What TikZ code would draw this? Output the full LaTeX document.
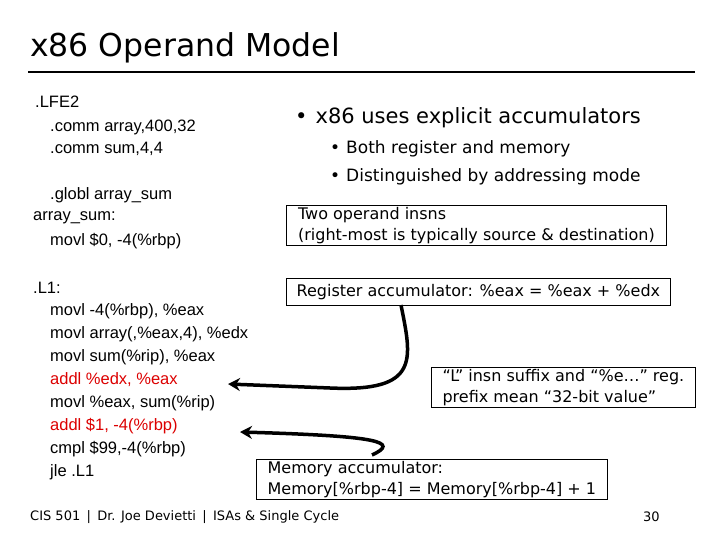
\documentclass[tikz,border=0pt]{standalone}
\usepackage{fontspec}
\usetikzlibrary{arrows.meta}
\setmainfont{Liberation Sans}
\newfontfamily\verd{DejaVu Sans}
\definecolor{codered}{RGB}{220,0,0}
\begin{document}
\begin{tikzpicture}[x=1pt,y=-1pt,
  code/.style={anchor=west,inner sep=0pt,font=\fontsize{16.5}{16.5}\selectfont},
  rtext/.style={anchor=west,inner sep=0pt,font=\verd\fontsize{17}{17}\selectfont},
  boxed/.style={draw,line width=0.8pt,anchor=north west,inner xsep=7pt,inner ysep=2pt,align=left,font=\verd\fontsize{16}{21}\selectfont},
  bigarrow/.style={line width=3.5pt,-{Stealth[length=12pt,width=13pt]}}]
\useasboundingbox (0,0) rectangle (720,540);
\node[anchor=west,inner sep=0pt,font=\verd\fontsize{31.5}{31.5}\selectfont] (title) at (30,48) {x86 Operand Model};
\draw[line width=2pt] (28,72) coordinate (l1) -- (695,72) coordinate (l2);
% code
\node[code] (c1) at (35,102) {.LFE2};
\node[code] (c2) at (50,127) {.comm array,400,32};
\node[code] (c3) at (50,149) {.comm sum,4,4};
\node[code] (c4) at (50,195) {.globl array\_sum};
\node[code] (c5) at (33,218) {array\_sum:};
\node[code] (c6) at (50,241) {movl \$0, -4(\%rbp)};
\node[code] (c7) at (33,288) {.L1:};
\node[code] (c8) at (50,311) {movl -4(\%rbp), \%eax};
\node[code] (c9) at (50,334) {movl array(,\%eax,4), \%edx};
\node[code] (c10) at (50,357) {movl sum(\%rip), \%eax};
\node[code,text=codered] (c11) at (50,380) {addl \%edx, \%eax};
\node[code] (c12) at (50,403) {movl \%eax, sum(\%rip)};
\node[code,text=codered] (c13) at (50,426) {addl \$1, -4(\%rbp)};
\node[code] (c14) at (50,449) {cmpl \$99,-4(\%rbp)};
\node[code] (c15) at (50,472) {jle .L1};
% right
\node[rtext,font=\verd\fontsize{21}{21}\selectfont] (b1) at (295,118) {•\hspace{8pt}x86 uses explicit accumulators};
\node[rtext] (b2) at (330,149) {•\hspace{6pt}Both register and memory};
\node[rtext] (b3) at (330,177) {•\hspace{6pt}Distinguished by addressing mode};
\node[boxed,minimum width=380pt] (two) at (286,205) {Two operand insns\\(right-most is typically source \& destination)};
\node[boxed,minimum width=384pt,minimum height=27pt] (reg) at (286,278) {Register accumulator: \%eax = \%eax + \%edx};
\node[boxed,minimum width=264pt] (lsuf) at (431,367) {“L” insn suffix and “\%e…” reg.\\prefix mean “32-bit value”};
\node[boxed,minimum width=351pt] (mem) at (256,459) {Memory accumulator:\\Memory[\%rbp-4] = Memory[\%rbp-4] + 1};
\coordinate (t1) at (228,384);
\coordinate (t2) at (240,432);
\draw[bigarrow] (401,305) .. controls (412,360) and (420,392) .. (330,388) -- (t1);
\draw[bigarrow] (372,455) .. controls (400,442) and (380,436) .. (t2);
\node[anchor=west,inner sep=0pt,font=\verd\fontsize{13}{13}\selectfont] (foot) at (30,517) {CIS 501 \,|\, Dr. Joe Devietti \,|\, ISAs \& Single Cycle};
\node[anchor=west,inner sep=0pt,font=\verd\fontsize{13}{13}\selectfont] (pg) at (643,517) {30};
\end{tikzpicture}
\end{document}
